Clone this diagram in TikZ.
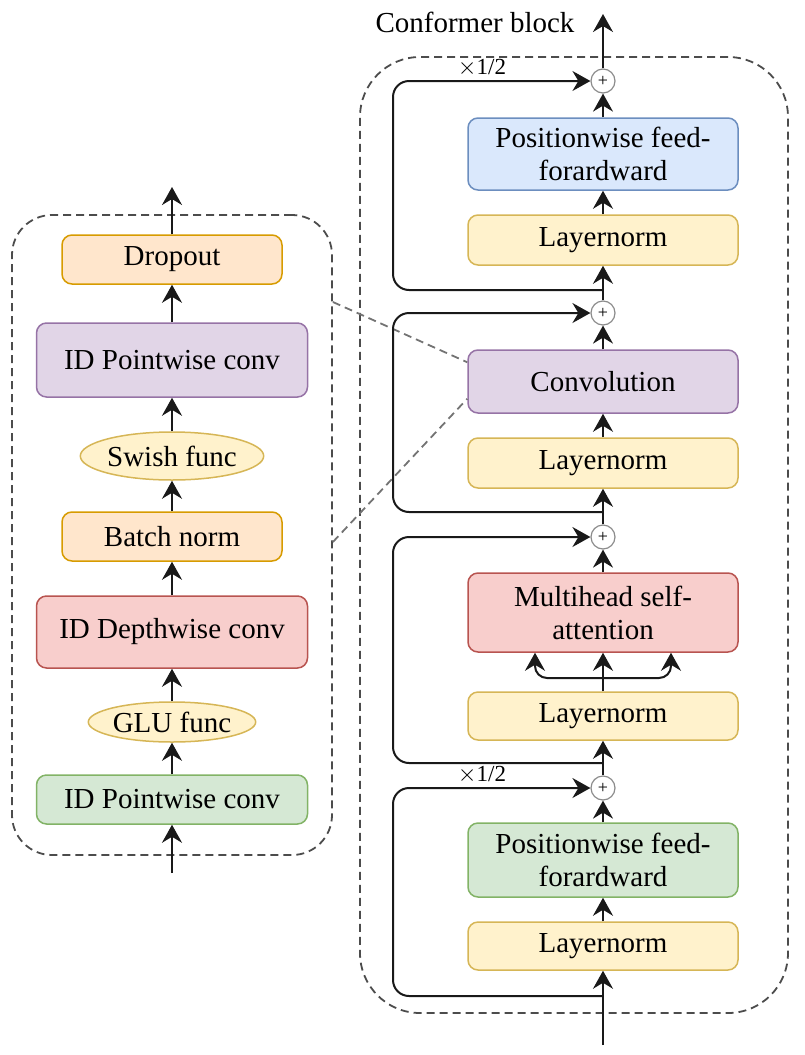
\documentclass[tikz,border=0pt]{standalone}
\usepackage{fontspec}
\setmainfont{Liberation Serif}
\usepackage{xcolor}
\usetikzlibrary{arrows.meta,shapes.geometric}

\definecolor{blueFill}{HTML}{DAE8FC}\definecolor{blueLine}{HTML}{6C8EBF}
\definecolor{yellowFill}{HTML}{FFF2CC}\definecolor{yellowLine}{HTML}{D6B656}
\definecolor{purpleFill}{HTML}{E1D5E7}\definecolor{purpleLine}{HTML}{9673A6}
\definecolor{redFill}{HTML}{F8CECC}\definecolor{redLine}{HTML}{B85450}
\definecolor{greenFill}{HTML}{D5E8D4}\definecolor{greenLine}{HTML}{82B366}
\definecolor{orangeFill}{HTML}{FFE6CC}\definecolor{orangeLine}{HTML}{D79B00}

\begin{document}
\begin{tikzpicture}[
    x=0.5pt, y=-0.5pt,
    block/.style={
        rectangle,
        rounded corners=5pt,
        line width=0.75pt,
        minimum width=135pt,
        minimum height=25pt,
        inner sep=2pt,
        font=\fontsize{14.5}{16.5}\selectfont
    },
    func/.style={
        ellipse,
        draw=yellowLine,
        fill=yellowFill,
        line width=0.75pt,
        minimum width=74pt,
        inner sep=0pt,
        font=\fontsize{14.5}{16.5}\selectfont
    },
    plus/.style={
        circle,
        draw=black!45,
        fill=white,
        line width=0.6pt,
        minimum size=12pt,
        inner sep=0pt,
        font=\fontsize{9}{9}\selectfont
    },
    frame/.style={
        rectangle,
        draw=black!70,
        line width=0.9pt,
        dash pattern=on 4pt off 2.5pt
    },
    arrow/.style={
        -{Stealth[length=9pt,width=10pt,inset=3pt]},
        line width=1pt,
        draw=black!90
    },
    zoomline/.style={
        draw=black!55,
        line width=0.9pt,
        dash pattern=on 4pt off 2.5pt
    },
    half/.style={
        font=\fontsize{11.5}{12}\selectfont
    }
]

% Frames
\node[frame, rounded corners=20pt, minimum width=160pt, minimum height=320pt] (panel) at (172, 535) {};
\node[frame, rounded corners=30pt, minimum width=214pt, minimum height=478pt] (confblock) at (574, 535) {};
\node[font=\fontsize{14.5}{16.5}\selectfont] (title) at (475, 22) {Conformer block};

% Conformer block
\node[block, draw=blueLine, fill=blueFill, minimum height=36pt] (ffnA) at (603, 154) {\parbox{130pt}{\centering Positionwise feed-\\forardward}};
\node[block, draw=yellowLine, fill=yellowFill] (lnA) at (603, 240) {Layernorm};
\node[block, draw=purpleLine, fill=purpleFill, minimum height=31.5pt] (conv) at (603, 381.5) {Convolution};
\node[block, draw=yellowLine, fill=yellowFill] (lnB) at (603, 463) {Layernorm};
\node[block, draw=redLine, fill=redFill, minimum height=39.5pt] (mhsa) at (603, 612.5) {\parbox{130pt}{\centering Multihead self-\\attention}};
\node[block, draw=yellowLine, fill=yellowFill, minimum height=24pt] (lnC) at (603, 716) {Layernorm};
\node[block, draw=greenLine, fill=greenFill, minimum height=37pt] (ffnB) at (603, 860) {\parbox{130pt}{\centering Positionwise feed-\\forardward}};
\node[block, draw=yellowLine, fill=yellowFill, minimum height=24pt] (lnD) at (603, 946) {Layernorm};

\node[plus] (plusA) at (603, 81) {\raisebox{-2.5pt}{+}};
\node[plus] (plusB) at (603, 313) {\raisebox{-2.5pt}{+}};
\node[plus] (plusC) at (603, 537) {\raisebox{-2.5pt}{+}};
\node[plus] (plusD) at (603, 788) {\raisebox{-2.5pt}{+}};

\coordinate (inR) at (603, 1045);
\coordinate (outR) at (603, 14);
\coordinate (splitA) at (603, 290);
\coordinate (splitB) at (603, 512);
\coordinate (splitC) at (603, 763);
\coordinate (splitD) at (603, 996);
\coordinate (fork) at (603, 678);

% Convolution module
\node[block, draw=orangeLine, fill=orangeFill, minimum width=110pt, minimum height=24.5pt] (drop) at (172, 259.5) {Dropout};
\node[block, draw=purpleLine, fill=purpleFill, minimum width=135.5pt, minimum height=37pt] (pwA) at (172, 360) {ID Pointwise conv};
\node[func, minimum height=24pt] (swish) at (172, 456) {Swish func};
\node[block, draw=orangeLine, fill=orangeFill, minimum width=110pt, minimum height=24.5pt] (bn) at (172, 536.5) {Batch norm};
\node[block, draw=redLine, fill=redFill, minimum width=135.5pt, minimum height=36pt] (dw) at (172, 632) {ID Depthwise conv};
\node[func, minimum height=20pt] (glu) at (172, 722) {GLU func};
\node[block, draw=greenLine, fill=greenFill, minimum width=135.5pt, minimum height=24.5pt] (pwB) at (172, 799.5) {ID Pointwise conv};

\coordinate (inL) at (172, 873);
\coordinate (outL) at (172, 187);

% Zoom lines
\draw[zoomline] ([yshift=116.5pt]panel.east) -- ([yshift=-6.5pt]conv.north west);
\draw[zoomline] ([yshift=-3.5pt]panel.east) -- ([yshift=7.5pt]conv.south west);

% Arrows (main path)
\draw[arrow] (inR) -- (lnD);
\draw[arrow] (lnD) -- (ffnB);
\draw[arrow] (ffnB) -- (plusD);
\draw[arrow] (plusD) -- (lnC);
\draw[arrow] (lnC) -- (mhsa);
\draw[arrow, rounded corners=6pt] (fork) -| ([xshift=-34pt]mhsa.south);
\draw[arrow, rounded corners=6pt] (fork) -| ([xshift=34pt]mhsa.south);
\draw[arrow] (mhsa) -- (plusC);
\draw[arrow] (plusC) -- (lnB);
\draw[arrow] (lnB) -- (conv);
\draw[arrow] (conv) -- (plusB);
\draw[arrow] (plusB) -- (lnA);
\draw[arrow] (lnA) -- (ffnA);
\draw[arrow] (ffnA) -- (plusA);
\draw[arrow] (plusA) -- (outR);

% Residual connections
\draw[arrow, rounded corners=8pt] (splitD) -- ++(-210, 0) |- (plusD.west);
\draw[arrow, rounded corners=8pt] (splitC) -- ++(-210, 0) |- (plusC.west);
\draw[arrow, rounded corners=8pt] (splitB) -- ++(-210, 0) |- (plusB.west);
\draw[arrow, rounded corners=8pt] (splitA) -- ++(-210, 0) |- (plusA.west);
\node[half] (halfA) at (482, 68) {$\times$1/2};
\node[half] (halfD) at (482, 775) {$\times$1/2};

% Arrows (convolution module)
\draw[arrow] (inL) -- (pwB);
\draw[arrow] (pwB) -- (glu);
\draw[arrow] (glu) -- (dw);
\draw[arrow] (dw) -- (bn);
\draw[arrow] (bn) -- (swish);
\draw[arrow] (swish) -- (pwA);
\draw[arrow] (pwA) -- (drop);
\draw[arrow] (drop) -- (outL);

\useasboundingbox (0, 0) rectangle (804, 1055);
\end{tikzpicture}
\end{document}
